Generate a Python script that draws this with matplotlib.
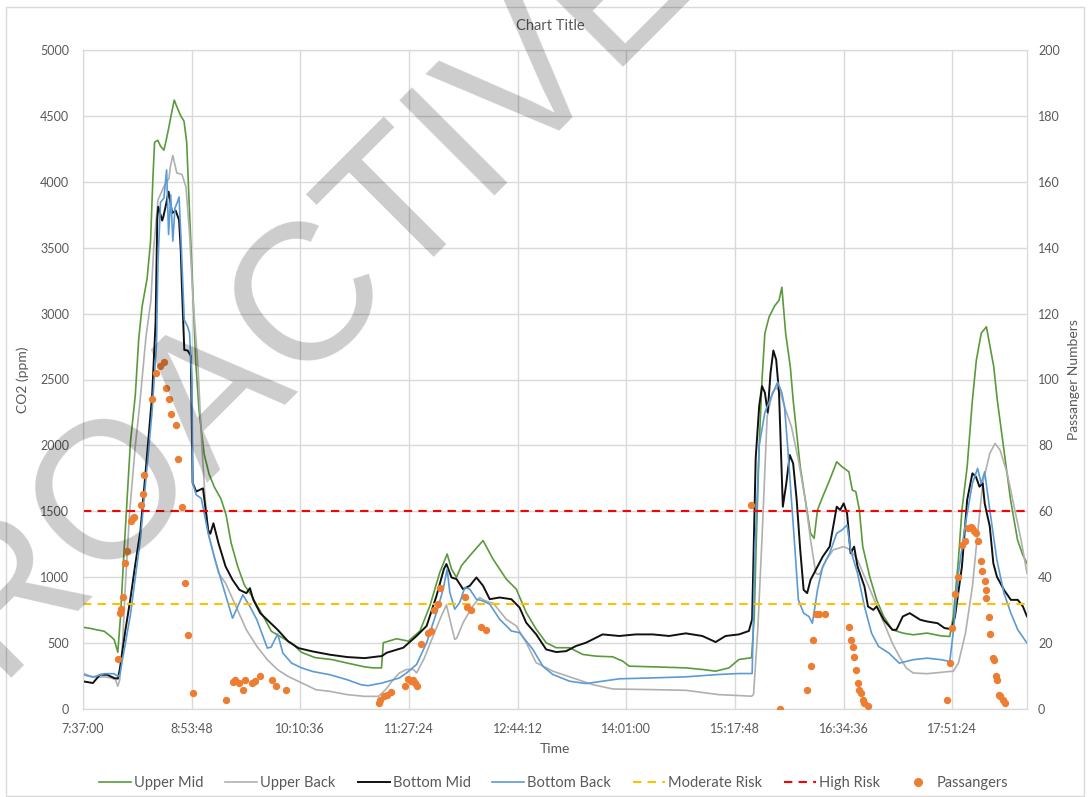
import matplotlib
matplotlib.use('Agg')
import matplotlib.pyplot as plt
from matplotlib.ticker import FuncFormatter, MultipleLocator
from matplotlib.lines import Line2D
from matplotlib.patches import Rectangle

plt.rcParams['font.family'] = ['Lato', 'DejaVu Sans']

# ---- data: (minutes after 7:37:00, value) ----
start_seconds = 7 * 3600 + 37 * 60
x_end = 667.3

upper_mid = [(0,620),(5,612),(10,600),(15,590),(19.7,550),(22.1,525),(24.6,430),(26.5,700),(28.5,1100),(30.7,1500),
    (33.5,2020),(37,2385),(39.4,2810),(41.8,3055),(45.3,3265),(47.7,3540),(49.5,4050),(50.6,4300),(52.9,4315),(54.8,4270),
    (57.2,4240),(59.1,4330),(60.8,4420),(62.4,4510),(64.5,4620),(66.7,4560),(69.1,4500),(71.4,4460),(73.3,4300),(75.0,3845),
    (77.4,3235),(79.7,2630),(82.1,2260),(85.7,1930),(89.2,1780),(92.8,1685),(97.5,1595),(101.1,1475),(104.7,1260),(109.4,1080),
    (114.1,940),(118.9,865),(123.6,775),(128.4,685),(133.1,590),(140.3,545),(147.4,500),(154.5,430),(164,390),(176,375),
    (187,348),(199,320),(205,312),(211,312),(212.3,503),(221.7,533),(230,515),(238.2,592),(245.2,782),(252.2,1036),
    (257.4,1176),(260.5,1062),(264,998),(267.5,1087),(273.4,1163),(282.8,1278),(289.8,1138),(299.2,986),(306.3,909),(313.3,732),
    (320.4,605),(327.4,503),(334.5,465),(343.9,465),(353.3,414),(362.7,401),(374.4,396),(381.5,363),(386.1,325),(402.6,320),
    (426.1,312),(437.8,300),(447.2,287),(456.6,312),(463.7,376),(472.6,389),(474.5,700),(476,1300),(478,2000),(480,2500),
    (482,2850),(485,2975),(489,3060),(492,3100),(494,3200),(496.7,2850),(500,2595),(502,2344),(507,1838),(510.6,1586),
    (514.3,1333),(516.8,1295),(519.2,1510),(522.9,1611),(527.8,1737),(532.8,1876),(536.5,1838),(541.4,1800),(543.8,1661),(546.3,1649),
    (548.8,1510),(551.2,1232),(556.1,1005),(561,828),(566,702),(572.1,601),(579.5,576),(586.9,563),(596.7,576),(606.5,555),
    (612.7,550),(615.2,702),(618.8,1131),(621.3,1510),(625,1838),(628.7,2343),(631.5,2648),(635,2852),(638.6,2900),(643.8,2597),
    (646.3,2343),(651,1964),(655.7,1586),(660.6,1283),(664.3,1169),(667.3,1106)]

upper_back = [(0,273),(5,250),(10,240),(15,245),(20,235),(23,222),(24.6,172),(26,222),(28,500),(30,950),(33,1500),(37,2000),
    (40,2300),(44.5,2822),(48,3100),(50,3500),(53,3862),(57.2,3965),(60.8,4025),(61.7,4112),(63.5,4200),(66.3,4067),(70,4055),
    (72.8,3960),(75.3,3610),(77.8,3100),(81.3,2595),(84,2000),(86,1650),(88.5,1333),(95.8,1030),(100.8,955),(108.1,778),
    (115.5,601),(122.9,475),(130.3,374),(137.6,298),(145,247),(154.8,197),(164.7,146),(174.5,134),(186.8,109),(199.1,96),
    (208.9,96),(213.8,146),(219.4,224),(223.6,273),(228.8,300),(233.5,300),(235.8,274),(241,380),(247.5,554),(253.1,700),
    (256.9,790),(260.5,626),(262.8,528),(264.2,538),(268.7,655),(275.3,778),(280.4,846),(283,828),(287.5,808),(290,803),
    (299.2,681),(306.3,630),(313.3,503),(320.4,350),(324.4,330),(332.1,287),(346.2,236),(360.3,185),(374.4,152),(402.6,147),
    (426.1,142),(449.5,109),(463.7,102),(472.6,97),(474,110),(477,600),(480,1300),(483.6,2217),(487.3,2400),(490,2440),
    (493,2400),(495.9,2293),(500.8,2141),(505.7,1889),(510.6,1586),(514.3,1283),(518,1030),(520.5,1020),(525.4,1131),(530.3,1207),
    (537.7,1232),(542.6,1207),(547.5,1131),(552.4,1005),(557.4,879),(562.3,752),(567.2,626),(572.1,500),(577,399),(582,311),
    (586.9,273),(596.7,268),(606.5,278),(612.7,285),(615.1,285),(618.8,348),(623.8,576),(628.7,929),(632.4,1333),(636,1712),
    (641,1939),(644.7,2015),(648.3,1964),(653.3,1788),(658.2,1535),(663.1,1283),(667.3,1030)]

bottom_mid = [(0,210),(7,197),(12,260),(17,260),(22,235),(24.6,230),(26,300),(30,600),(33.5,836),(37,1100),(40.6,1352),
    (45.3,1929),(48.9,2385),(51.3,2930),(52.5,3720),(53.2,3811),(54.4,3767),(56,3706),(56.8,3735),(58.4,3813),(60.5,3925),
    (63,3763),(65.5,3782),(67.9,3710),(69.1,3482),(70,3180),(71.6,2724),(74,2720),(76.2,2680),(77.5,1717),(80,1650),
    (84.8,1674),(88.5,1358),(90,1330),(92.2,1409),(95.8,1257),(100.8,1081),(105.7,980),(110.6,904),(115.5,879),(118,917),
    (120.4,828),(125.3,727),(132.7,651),(137.6,601),(145,513),(152.4,462),(162.2,437),(174.5,412),(186.8,394),(199.1,386),
    (208.9,399),(211.1,401),(214.7,427),(226.4,465),(235.8,554),(242.9,630),(249.9,859),(255.1,1062),(256.9,1100),(260.5,998),
    (264,986),(268.7,909),(273.4,935),(278.1,998),(282.8,935),(287.5,833),(294.5,846),(302.8,833),(308.6,770),(313.3,655),
    (320.4,566),(327.4,452),(334.5,432),(341.5,439),(348.5,478),(355.6,503),(367.3,566),(379.1,554),(390.8,566),(402.6,566),
    (414.3,554),(426.1,574),(437.8,554),(447.2,508),(454.2,554),(463.7,566),(470.7,592),(473,681),(475.5,1900),(478,2300),
    (480,2450),(482,2400),(484,2250),(486,2550),(488,2720),(490,2650),(492,2400),(494.7,1535),(497,1700),(499.6,1927),
    (502,1863),(504.5,1586),(507,1207),(509.4,904),(511.9,879),(514.3,980),(518,1056),(522.9,1156),(527.8,1232),(530.3,1384),
    (532.8,1535),(535.2,1510),(537.7,1560),(540.1,1485),(542.6,1182),(545.1,1232),(547.5,1081),(552.4,929),(554.9,778),(558.6,752),
    (561,778),(566,677),(572.1,601),(575,601),(579.5,702),(584.4,727),(591.8,677),(596.7,664),(604.1,651),(609,614),
    (614,606),(616.4,702),(621.3,1081),(625,1586),(628.7,1788),(631.2,1762),(633.7,1687),(636,1712),(637.4,1560),(641,1384),
    (643.5,1106),(646,1005),(651,904),(655.9,828),(660.8,828),(664.4,778),(667.3,702)]

bottom_back = [(0,260),(7,242),(15,268),(22,268),(24.6,247),(26,260),(30,500),(33.5,714),(37,1000),(40.6,1292),(45.3,1839),
    (48.9,2265),(52,2780),(53,3387),(54.8,3845),(57.2,3876),(59.1,4090),(60.5,3600),(62,3900),(63.5,3550),(65,3800),(66.7,3845),
    (67.9,3885),(69.1,3610),(71.6,2951),(74,2900),(75.3,2853),(77,2500),(77.5,1717),(80,1625),(83.6,1598),(88.5,1333),
    (93.4,1131),(98.3,955),(103.2,778),(105.7,689),(109.4,778),(113,866),(118,778),(122.9,677),(130.3,462),(133,470),
    (137.6,570),(141.3,424),(147.5,348),(154.8,311),(162.2,285),(174.5,260),(186.8,222),(196.6,184),(201.5,177),(211.4,197),
    (223.6,235),(228.8,274),(235.8,338),(242.9,503),(249.9,732),(254.6,909),(257.4,1062),(259.3,884),(262.8,757),(266.3,808),
    (269.9,922),(273.4,909),(278.1,833),(282.8,820),(287.5,795),(294.5,681),(302.8,592),(308.6,579),(318,452),(325,325),
    (332.1,262),(343.9,211),(355.6,193),(367.3,211),(379.1,229),(402.6,236),(426.1,244),(449.5,262),(463.7,269),(473,269),
    (475,1200),(478,2000),(482,2250),(487,2380),(491,2480),(494,2400),(495.9,2293),(498.3,1964),(500.8,1586),(503.3,1207),
    (505.7,828),(509.4,727),(513.1,702),(515.6,651),(519.2,904),(522.9,1081),(527.8,1182),(532.8,1333),(536.5,1358),(540.1,1396),
    (542.6,1207),(547.5,1030),(552.4,778),(557.4,576),(562.3,475),(569.7,424),(577,348),(586.9,374),(596.7,386),(606.5,374),
    (612.7,361),(615.1,576),(618.8,1030),(623.8,1409),(628.7,1712),(632.4,1826),(634.9,1712),(637.4,1800),(641,1510),(646,1131),
    (651,879),(655.9,727),(660.8,601),(667.3,500)]

passengers = [(24.5,15.2),(25.9,29.2),(26.8,30.4),(28.3,34),(29.9,44.4),(31.1,48),(33.9,57.2),(35,57.9),(35.8,58.4),
    (41.1,62),(42.5,65.1),(43.4,71.1),(48.9,94.2),(51.3,102.1),(54.4,104),(57.2,105.2),(58.4,97.3),(60.8,94.2),(62.4,89.4),
    (65.5,86.3),(67.4,76),(70.3,61.4),(71.9,38.3),(74.3,22.5),(78.1,4.9),(101.3,2.8),(105.7,8.1),(107.6,8.9),(110.6,7.9),
    (113,5.9),(114.3,8.9),(119.2,7.9),(121.7,8.6),(125.3,9.9),(133.9,8.9),(136.4,6.9),(143.8,5.9),(208.9,1.8),(210.1,2.8),
    (212.6,3.8),(215,4.3),(217.5,5.1),(227.3,6.9),(229.8,9.1),(231.7,8.4),(233.5,8.9),(234.7,7.9),(235.9,6.9),(238.9,19.8),
    (243.8,23.1),(245.8,23.8),(248.2,29.9),(250.8,32),(252.6,36.7),(270.3,34),(271.6,31.1),(274,29.9),(281.4,24.8),(285.1,24.1),
    (472.5,62),(492.7,0),(511.9,5.9),(514.3,12.9),(516.3,20.8),(518,28.9),(520.5,28.9),(524.2,28.9),(541.4,24.8),(543.1,20.8),
    (544.3,18.8),(545.1,15.8),(546.3,11.7),(547.5,7.9),(548.8,5.9),(550,4.9),(551.2,2.8),(552.4,1.8),(554.9,0.8),(610.7,2.8),
    (612.7,14),(614.4,24.6),(616.4,35),(618.8,40),(621.3,49.8),(623.8,50.9),(625.7,54.9),(627.4,55.2),(628.7,54.9),(629.9,53.9),
    (631.1,53.4),(632.4,50.9),(634.8,44.8),(635.6,41.8),(637.3,38.7),(638.1,36.2),(638.6,33.7),(640.3,27.9),(641,22.9),(643,15.5),
    (644,15),(645.2,9.9),(646.4,8.9),(647.4,4.3),(648.3,3.8),(650.3,2.8),(652,1.8)]

moderate_risk = 800
high_risk = 1500
tick_step = 76.8  # minutes (1:16:48)
watermark = "PROACTIVE"

TXT = '#595959'
GRID = '#d9d9d9'

fig = plt.figure(figsize=(10.9, 7.97), dpi=100)
fig.patches.append(Rectangle((6/1090, 1/797), 1078/1090, 789/797, transform=fig.transFigure,
                             fill=False, edgecolor=GRID, linewidth=1.0))
ax = fig.add_axes([83/1090, 88/797, (1027-83)/1090, 659/797])
ax2 = ax.twinx()

def split(pairs):
    return [p[0] for p in pairs], [p[1] for p in pairs]

series = [(upper_mid, 'Upper Mid', '#5b9a3b', 1.2),
          (upper_back, 'Upper Back', '#b0b0b0', 1.2),
          (bottom_mid, 'Bottom Mid', '#111111', 1.4),
          (bottom_back, 'Bottom Back', '#5b9bd5', 1.2)]
handles = []
for data, name, col, lw in series:
    t, v = split(data)
    h, = ax.plot(t, v, color=col, lw=lw, label=name, zorder=3)
    handles.append(h)
h_mod = ax.axhline(moderate_risk, color='#ffc000', lw=1.5, ls=(0, (4, 3)), label='Moderate Risk', zorder=3)
h_high = ax.axhline(high_risk, color='#ff0000', lw=1.5, ls=(0, (4, 3)), label='High Risk', zorder=3)
handles += [h_mod, h_high]

pt, pv = split(passengers)
ax2.scatter(pt, pv, s=28, color='#ed7d31', zorder=4, label='Passangers', linewidths=0)
handles.append(Line2D([], [], marker='o', ls='none', color='#ed7d31', markersize=5.5, label='Passangers'))

ax.set_xlim(0, x_end)
ax.set_ylim(0, 5000)
ax2.set_ylim(0, 200)
ax.xaxis.set_major_locator(MultipleLocator(tick_step))
ax.yaxis.set_major_locator(MultipleLocator(500))
ax2.yaxis.set_major_locator(MultipleLocator(20))

def fmt_time(m, pos):
    s = int(round(start_seconds + m * 60))
    return f"{s // 3600}:{(s % 3600) // 60:02d}:{s % 60:02d}"
ax.xaxis.set_major_formatter(FuncFormatter(fmt_time))

ax.grid(True, color=GRID, lw=1.0, zorder=0)
ax.set_axisbelow(True)
for a in (ax, ax2):
    for sp in a.spines.values():
        sp.set_color(GRID)
    a.tick_params(length=0, colors=TXT, labelsize=9)
ax.tick_params(axis='x', pad=10)
ax.tick_params(axis='y', pad=10)
ax2.tick_params(axis='y', pad=8)

ax.set_xlabel('Time', color=TXT, fontsize=10, labelpad=6)
ax.set_ylabel('CO2 (ppm)', color=TXT, fontsize=10, labelpad=8)
ax2.set_ylabel('Passanger Numbers', color=TXT, fontsize=10, labelpad=6)
fig.text(0.505, 0.968, 'Chart Title', ha='center', va='center', color=TXT, fontsize=10.5)

fig.legend(handles=handles, loc='center', bbox_to_anchor=(0.508, 0.018), ncol=7, frameon=False,
           fontsize=10.5, labelcolor=TXT, handlelength=2.2, columnspacing=1.5, handletextpad=0.2)

# semi-transparent watermark overlay
fig.text(0.2774, 0.5334, watermark, rotation=45, rotation_mode='anchor',
         ha='center', va='baseline', fontsize=140, color='black', alpha=0.2,
         family='Liberation Sans', zorder=10)

fig.savefig('out.png', dpi=100)
